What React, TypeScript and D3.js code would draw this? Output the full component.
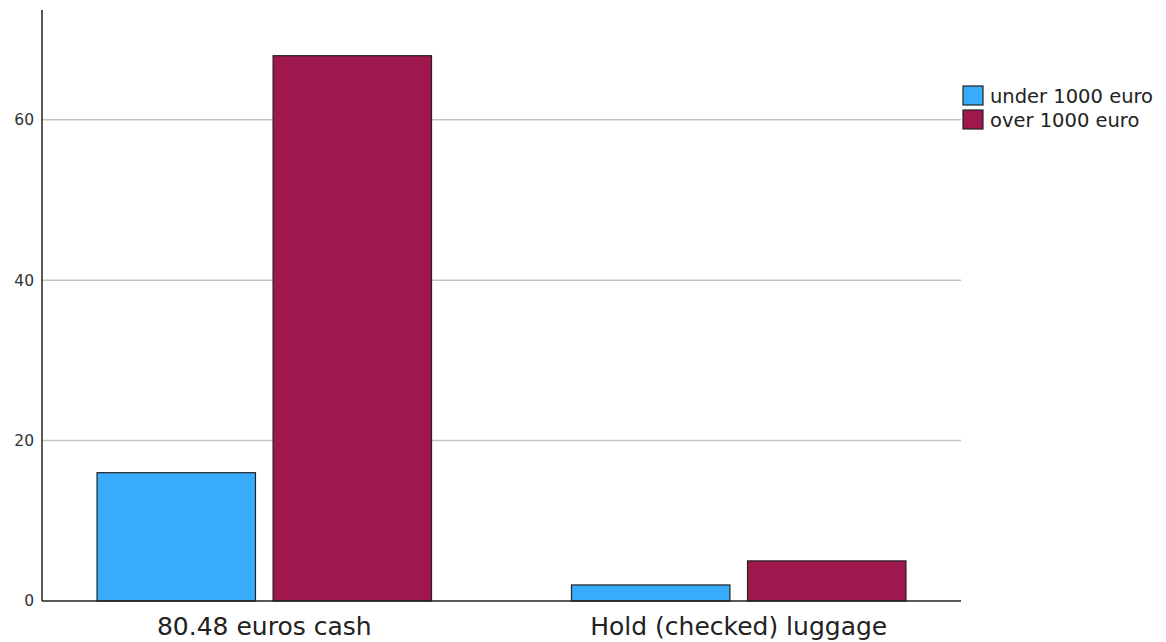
import React from "react";
import * as d3 from "d3";

const categories = ["80.48 euros cash", "Hold (checked) luggage"];
const seriesNames = ["under 1000 euro", "over 1000 euro"];
const underValues = [16, 2];
const overValues = [68, 5];
const yTicks = [0, 20, 40, 60];
const colors = ["#38abfb", "#9e184e"];

const W = 1166;
const H = 642;
const left = 42;
const right = 961;
const top = 10;
const bottom = 601;
const font = "'DejaVu Sans', sans-serif";

export default function App() {
  const y = d3.scaleLinear().domain([0, 73.7]).range([bottom, top]);
  const x0 = d3
    .scaleBand<string>()
    .domain(categories)
    .range([left, right])
    .paddingInner(0.295)
    .paddingOuter(0.116);
  const x1 = d3
    .scaleBand<string>()
    .domain(seriesNames)
    .range([0, x0.bandwidth()])
    .paddingInner(0.1);
  const series = [underValues, overValues];

  return (
    <svg
      width={W}
      height={H}
      style={{ position: "absolute", left: 0, top: 0, background: "#fff" }}
    >
      {yTicks
        .filter((t) => t > 0)
        .map((t) => (
          <line
            key={"g" + t}
            x1={left}
            x2={right}
            y1={y(t)}
            y2={y(t)}
            stroke="#c4c4c4"
            strokeWidth={1.5}
          />
        ))}
      {yTicks.map((t) => (
        <text
          key={"t" + t}
          x={left - 8}
          y={y(t)}
          dy="0.35em"
          textAnchor="end"
          fontFamily={font}
          fontSize={15.5}
          fill="#333"
        >
          {t}
        </text>
      ))}
      {categories.map((c, i) =>
        seriesNames.map((s, j) => {
          const v = series[j][i];
          const bx = (x0(c) ?? 0) + (x1(s) ?? 0);
          return (
            <rect
              key={c + s}
              x={bx}
              y={y(v)}
              width={x1.bandwidth()}
              height={bottom - y(v)}
              fill={colors[j]}
              stroke="#222"
              strokeWidth={1.2}
            />
          );
        })
      )}
      <line x1={left} x2={left} y1={top} y2={bottom} stroke="#222" strokeWidth={1.5} />
      <line x1={left} x2={right} y1={bottom} y2={bottom} stroke="#222" strokeWidth={1.5} />
      {categories.map((c) => (
        <text
          key={"c" + c}
          x={(x0(c) ?? 0) + x0.bandwidth() / 2}
          y={635}
          textAnchor="middle"
          fontFamily={font}
          fontSize={25}
          fill="#222"
        >
          {c}
        </text>
      ))}
      {seriesNames.map((s, j) => (
        <g key={"l" + s} transform={`translate(963, ${86 + j * 24})`}>
          <rect x={0} y={0} width={20} height={19} fill={colors[j]} stroke="#222" strokeWidth={1.2} />
          <text x={27} y={10} dy="0.35em" fontFamily={font} fontSize={19.5} fill="#222">
            {s}
          </text>
        </g>
      ))}
    </svg>
  );
}
